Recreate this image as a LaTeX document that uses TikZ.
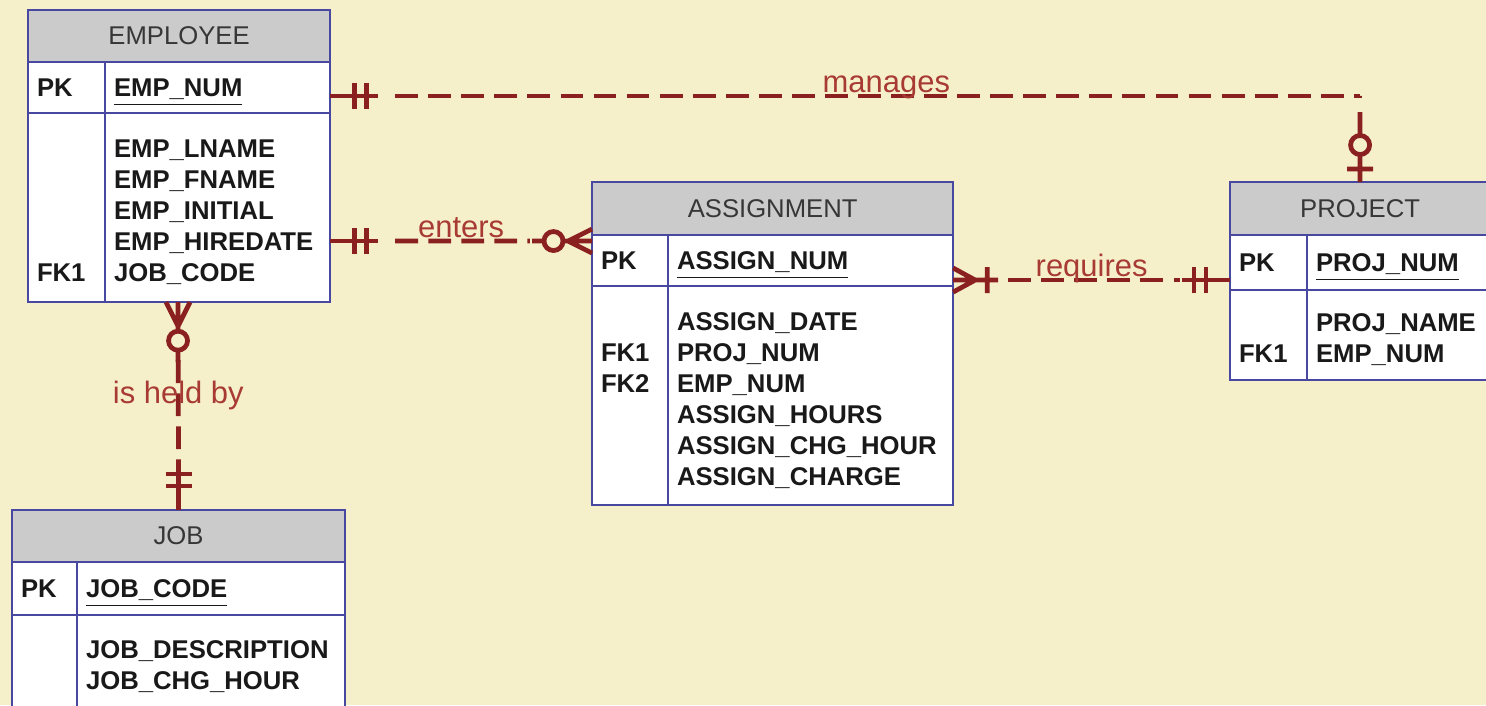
\documentclass[tikz,border=0pt]{standalone}
\usepackage{fontspec}
\setmainfont{Liberation Sans}
\usetikzlibrary{positioning,calc}
\definecolor{bgcream}{RGB}{246,240,202}
\definecolor{tblblue}{RGB}{72,72,160}
\definecolor{hdrgrey}{RGB}{203,203,203}
\definecolor{hdrtext}{RGB}{55,55,55}
\definecolor{attrtext}{RGB}{25,25,25}
\definecolor{relred}{RGB}{139,32,32}
\definecolor{lblred}{RGB}{168,58,52}

% extra room above the first attribute line
\newcommand{\firstrow}{\rule{0pt}{9.6pt}}
% underlined key, no depth so it sits level with "PK"
\newcommand{\pkattr}[1]{\raisebox{0pt}[\height][0pt]{\underline{#1}}}

\tikzset{
  relsolid/.style={draw=relred, line width=1.35pt},
  onlyone/.pic={\draw[relsolid] (0,0) -- (48,0) (24,-13) -- (24,13) (36,-13) -- (36,13);},
  zeroone/.pic={\draw[relsolid] (0,0) -- (27.5,0) (13,-13) -- (13,13) (46.5,0) -- (70,0) (37,0) circle (9.5);},
  zeromany/.pic={\draw[relsolid] (0,-12) -- (24,0) -- (0,12) (0,0) -- (29,0) (48,0) -- (60,0) (38.5,0) circle (9.5);},
  onemany/.pic={\draw[relsolid] (0,-12) -- (22,0) -- (0,12) (0,0) -- (45,0) (34,-13) -- (34,13);}
}

\begin{document}
\begin{tikzpicture}[x=0.01cm, y=-0.01cm,
    hdr/.style={rectangle, draw=tblblue, fill=hdrgrey, line width=0.7pt, outer sep=0pt,
      anchor=north west, text=hdrtext, font=\fontsize{7.3}{8.8}\selectfont},
    cell/.style={rectangle, draw=tblblue, fill=white, line width=0.7pt, outer sep=0pt,
      inner xsep=0.09cm, inner ysep=0pt, align=left, text=attrtext,
      font=\fontsize{7.3}{8.8}\selectfont\bfseries},
    rel/.style={draw=relred, line width=1.35pt, dash pattern=on 6.5pt off 2.9pt},
    rellabel/.style={text=lblred, inner sep=0pt, font=\fontsize{8.8}{10}\selectfont}]
  \useasboundingbox (0,0) rectangle (1486,705);
  \clip (0,0) rectangle (1486,705);
  \fill[bgcream] (0,0) rectangle (1486,705);

  % EMPLOYEE
  \node[hdr, minimum width=3.02cm, minimum height=0.52cm] (emp-h) at (28,10) {EMPLOYEE};
  \node[cell, text width=0.59cm, minimum height=0.51cm, anchor=north west] (emp-pkk) at (emp-h.south west) {PK};
  \node[cell, text width=2.07cm, minimum height=0.51cm, right=0pt of emp-pkk] (emp-pka) {\pkattr{EMP\_NUM}};
  \node[cell, text width=0.59cm, minimum height=1.89cm, below=0pt of emp-pkk] (emp-bk)
    {\begin{tabular}{@{}l@{}}\firstrow\\ \mbox{}\\ \mbox{}\\ \mbox{}\\ FK1\end{tabular}};
  \node[cell, text width=2.07cm, minimum height=1.89cm, below=0pt of emp-pka] (emp-ba)
    {\begin{tabular}{@{}l@{}}\firstrow EMP\_LNAME\\ EMP\_FNAME\\ EMP\_INITIAL\\ EMP\_HIREDATE\\ JOB\_CODE\end{tabular}};

  % ASSIGNMENT
  \node[hdr, minimum width=3.61cm, minimum height=0.53cm] (asg-h) at (592,182) {ASSIGNMENT};
  \node[cell, text width=0.58cm, minimum height=0.51cm, anchor=north west] (asg-pkk) at (asg-h.south west) {PK};
  \node[cell, text width=2.67cm, minimum height=0.51cm, right=0pt of asg-pkk] (asg-pka) {\pkattr{ASSIGN\_NUM}};
  \node[cell, text width=0.58cm, minimum height=2.19cm, below=0pt of asg-pkk] (asg-bk)
    {\begin{tabular}{@{}l@{}}\firstrow\\ FK1\\ FK2\\ \mbox{}\\ \mbox{}\\ \mbox{}\end{tabular}};
  \node[cell, text width=2.67cm, minimum height=2.19cm, below=0pt of asg-pka] (asg-ba)
    {\begin{tabular}{@{}l@{}}\firstrow ASSIGN\_DATE\\ PROJ\_NUM\\ EMP\_NUM\\ ASSIGN\_HOURS\\ ASSIGN\_CHG\_HOUR\\ ASSIGN\_CHARGE\end{tabular}};

  % PROJECT
  \node[hdr, minimum width=2.60cm, minimum height=0.53cm] (proj-h) at (1230,182) {PROJECT};
  \node[cell, text width=0.59cm, minimum height=0.55cm, anchor=north west] (proj-pkk) at (proj-h.south west) {PK};
  \node[cell, text width=1.65cm, minimum height=0.55cm, right=0pt of proj-pkk] (proj-pka) {\pkattr{PROJ\_NUM}};
  \node[cell, text width=0.59cm, minimum height=0.90cm, below=0pt of proj-pkk] (proj-bk)
    {\begin{tabular}{@{}l@{}}\firstrow\\ FK1\end{tabular}};
  \node[cell, text width=1.65cm, minimum height=0.90cm, below=0pt of proj-pka] (proj-ba)
    {\begin{tabular}{@{}l@{}}\firstrow PROJ\_NAME\\ EMP\_NUM\end{tabular}};

  % JOB
  \node[hdr, minimum width=3.33cm, minimum height=0.52cm] (job-h) at (12,510) {JOB};
  \node[cell, text width=0.47cm, minimum height=0.53cm, anchor=north west] (job-pkk) at (job-h.south west) {PK};
  \node[cell, text width=2.50cm, minimum height=0.53cm, right=0pt of job-pkk] (job-pka) {\pkattr{JOB\_CODE}};
  \node[cell, text width=0.47cm, minimum height=0.93cm, below=0pt of job-pkk] (job-bk)
    {\begin{tabular}{@{}l@{}}\firstrow\\ \mbox{}\end{tabular}};
  \node[cell, text width=2.50cm, minimum height=0.93cm, below=0pt of job-pka] (job-ba)
    {\begin{tabular}{@{}l@{}}\firstrow JOB\_DESCRIPTION\\ JOB\_CHG\_HOUR\end{tabular}};

  % connector ends
  \coordinate (mng-a) at ($(emp-pka.north east)+(0,34)$);
  \coordinate (ent-a) at ($(emp-ba.north east)+(0,128)$);
  \coordinate (ent-b) at ($(asg-pkk.north west)+(0,6)$);
  \coordinate (req-a) at ($(asg-pka.north east)+(0,45)$);
  \coordinate (req-b) at ($(proj-pkk.north west)+(0,45)$);
  \coordinate (held-a) at ($(emp-bk.south east)+(73,0)$);

  % relationships
  \draw[rel, shorten <=0.65cm, shorten >=0.86cm] (mng-a) -| node[rellabel, pos=0.27, anchor=base, yshift=1pt] (mng-l) {manages} (proj-h.north);
  \draw[rel, shorten <=0.65cm, shorten >=0.62cm] (ent-a) -- node[rellabel, anchor=base, yshift=1pt] (ent-l) {enters} (ent-b);
  \draw[rel, shorten <=0.55cm, shorten >=0.50cm] (req-a) -- node[rellabel, anchor=base, yshift=1pt] (req-l) {requires} (req-b);
  \draw[rel, shorten <=0.58cm, shorten >=0.45cm] (held-a) -- node[rellabel, pos=0.447] (held-l) {is held by} (job-h.north);

  \pic at (mng-a) {onlyone};
  \pic[rotate=90] at (proj-h.north) {zeroone};
  \pic at (ent-a) {onlyone};
  \pic[rotate=180] at (ent-b) {zeromany};
  \pic at (req-a) {onemany};
  \pic[rotate=180] at (req-b) {onlyone};
  \pic[rotate=-90] at (held-a) {zeromany};
  \pic[rotate=90] at (job-h.north) {onlyone};
\end{tikzpicture}
\end{document}
